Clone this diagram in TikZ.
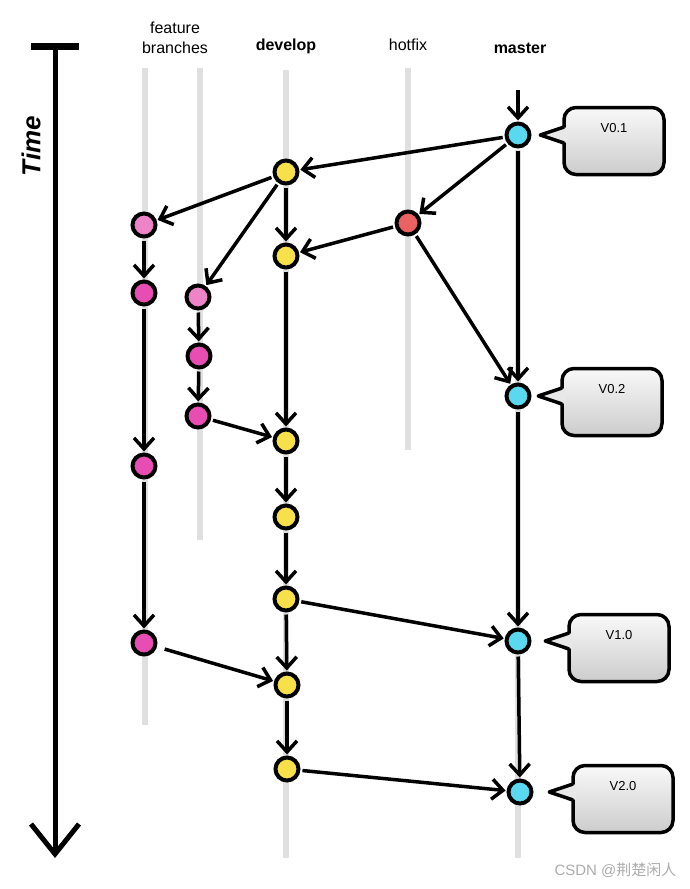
\documentclass[tikz,border=0pt]{standalone}
\usepackage{fontspec}
\setmainfont{Liberation Sans}
\newfontfamily\cjkfont{Noto Sans CJK SC}
\usetikzlibrary{arrows.meta,calc}

\definecolor{mastercol}{HTML}{5AD8F0}
\definecolor{developcol}{HTML}{F8E04A}
\definecolor{featurecol}{HTML}{E84DB3}
\definecolor{newfeaturecol}{HTML}{EE84C8}
\definecolor{hotfixcol}{HTML}{EA6262}
\definecolor{lanecol}{HTML}{E0E0E0}

\tikzset{
  commit/.style={circle,draw=black,line width=4pt,minimum size=23pt,inner sep=0pt},
  flow/.style={line width=3.5pt,-{Straight Barb[length=11pt,width=20pt]},shorten >=1pt,shorten <=2pt},
  tagbox/.style={draw,line width=3.5pt,rounded corners=12pt,top color=gray!5,bottom color=gray!40,
    minimum width=100pt,minimum height=67pt,font=\fontsize{13}{15}\selectfont,
    text height=9pt,text depth=26pt,inner ysep=16pt},
  head/.style={font=\fontsize{16}{20}\selectfont,align=center},
}

\begin{document}
\begin{tikzpicture}[x=1pt,y=-1pt]
        \useasboundingbox (0,0) rectangle (690,889);

        % lanes
        \foreach \x/\a/\b in {145/68/725,200/68/540,286/70/858,408/68/450,518/150/858}
          \draw[lanecol,line width=6pt] (\x,\a) -- (\x,\b);

        \node[head] (hfeature) at (175,38) {feature\\branches};
        \node[head] (hdevelop) at (286,46) {\textbf{develop}};
        \node[head] (hhotfix) at (408,45) {hotfix};
        \node[head] (hmaster) at (520,48) {\textbf{master}};

        \node[rotate=90,font=\fontsize{26}{28}\selectfont\bfseries\itshape] (time) at (31,146) {Time};
        \coordinate (t0) at (55,46);
        \coordinate (t1) at (55,858);
        \draw[line width=7pt] (31,46) -- (79,46);
        \draw[line width=5pt,-{Straight Barb[length=30pt,width=48pt]}] (t0) -- (t1);

        \coordinate (m0) at (518,88);
        \node[commit,fill=mastercol] (m1) at (518,135) {};
        \node[commit,fill=mastercol] (m2) at (518,396) {};
        \node[commit,fill=mastercol] (m3) at (518,641) {};
        \node[commit,fill=mastercol] (m4) at (520,792) {};

        \node[commit,fill=hotfixcol] (h1) at (408,223) {};

        \node[commit,fill=developcol] (d1) at (286,172) {};
        \node[commit,fill=developcol] (d2) at (286,256) {};
        \node[commit,fill=developcol] (d3) at (286,441) {};
        \node[commit,fill=developcol] (d4) at (286,517) {};
        \node[commit,fill=developcol] (d5) at (286,599) {};
        \node[commit,fill=developcol] (d6) at (287,685) {};
        \node[commit,fill=developcol] (d7) at (287,769) {};

        \node[commit,fill=newfeaturecol] (f1) at (144,225) {};
        \node[commit,fill=featurecol] (f2) at (144,293) {};
        \node[commit,fill=featurecol] (f3) at (144,466) {};
        \node[commit,fill=featurecol] (f4) at (144,643) {};

        \node[commit,fill=newfeaturecol] (g1) at (198,297) {};
        \node[commit,fill=featurecol] (g2) at (199,356) {};
        \node[commit,fill=featurecol] (g3) at (198,416) {};

        \path[flow]
        (m0) edge (m1)
        (m1) edge (d1) edge (h1) edge (m2)
        (d1) edge (f1) edge (g1) edge (d2)
        (h1) edge (d2) edge (m2)
        (f1) edge (f2) (f2) edge (f3) (f3) edge (f4)
        (g1) edge (g2) (g2) edge (g3)
        (g3) edge (d3)
        (d2) edge (d3) (d3) edge (d4) (d4) edge (d5) (d5) edge (d6) (d6) edge (d7)
        (d5) edge (m3)
        (f4) edge [shorten <=8pt] (d6)
        (m2) edge (m3) (m3) edge (m4)
        (d7) edge (m4)
        ;

        \node[tagbox] (v01) at (614,141) {V0.1};
        \node[tagbox] (v02) at (612,402) {V0.2};
        \node[tagbox] (v10) at (619,648) {V1.0};
        \node[tagbox] (v20) at (623,799) {V2.0};

        \foreach \lbl/\cm in {v01/m1,v02/m2,v10/m3,v20/m4}{
          \fill[gray!18] ($(\lbl.west |- \cm)+(5,-8)$) -- ($(\lbl.west |- \cm)+(-22,0)$)
            -- ($(\lbl.west |- \cm)+(5,8)$) -- cycle;
          \draw[line width=3.5pt,line join=round] ($(\lbl.west |- \cm)+(1.75,-8)$)
            -- ($(\lbl.west |- \cm)+(-22,0)$) -- ($(\lbl.west |- \cm)+(1.75,8)$);
        }

        \node[text=gray!65,font=\fontsize{15}{17}\selectfont,anchor=east] (mark) at (680,870) {CSDN @{\cjkfont 荆楚闲人}};
\end{tikzpicture}
\end{document}
